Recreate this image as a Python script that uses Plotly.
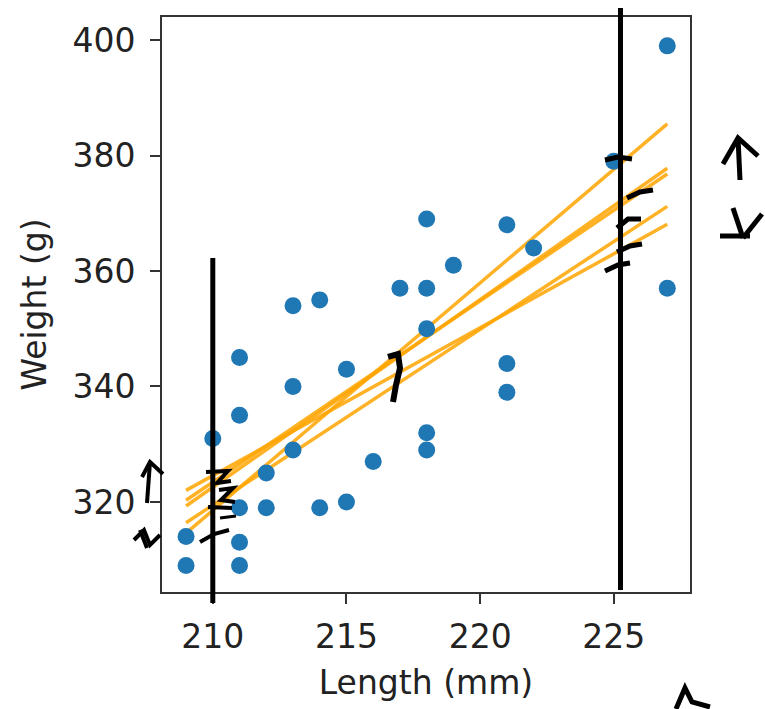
import plotly.graph_objects as go

# Fish measurements: length (mm) vs weight (g)
length_mm = [209, 209, 210, 211, 211, 211, 211, 211, 212, 212, 213, 213, 213,
             214, 214, 215, 215, 216, 217, 218, 218, 218, 218, 218, 219, 221,
             221, 221, 222, 225, 227, 227]
weight_g = [309, 314, 331, 345, 335, 319, 313, 309, 325, 319, 354, 340, 329,
            355, 319, 343, 320, 327, 357, 369, 357, 350, 332, 329, 361, 368,
            344, 339, 364, 379, 399, 357]

# Resampled regression fits, given by their weights at both ends of the length span
fit_x = [209, 227]
fit_start = [314.6, 316.4, 319.3, 320.3, 322.0]
fit_end = [385.5, 371.2, 377.8, 376.8, 368.1]

# Marked lengths
marked_lengths = [210, 225.25]

x_tick_vals = [210, 215, 220, 225]
y_tick_vals = [320, 340, 360, 380, 400]

W, H = 765, 709
L, R, T, B = 162, 75, 17, 117
XR = [208.1, 227.85]
YR = [304.4, 404.0]
PW, PH = W - L - R, H - T - B

fig = go.Figure()

for s, e in zip(fit_start, fit_end):
    fig.add_trace(go.Scatter(x=fit_x, y=[s, e], mode="lines",
                             line=dict(color="rgba(255,165,0,0.85)", width=3.5),
                             showlegend=False, hoverinfo="skip"))

fig.add_trace(go.Scatter(x=length_mm, y=weight_g, mode="markers",
                         marker=dict(color="#1f77b4", size=17, line=dict(width=0)),
                         showlegend=False))


def pp(px, py):
    """Canvas pixel -> paper coordinates."""
    return (px - L) / PW, (H - B - py) / PH


def stroke(points, width=4):
    parts = []
    for i, (px, py) in enumerate(points):
        x, y = pp(px, py)
        parts.append(("M" if i == 0 else "L") + f"{x:.5f},{y:.5f}")
    fig.add_shape(type="path", path=" ".join(parts), xref="paper", yref="paper",
                  line=dict(color="black", width=width), layer="above")


def xpix(v):
    return L + (v - XR[0]) / (XR[1] - XR[0]) * PW


# vertical marker lines
x210 = xpix(marked_lengths[0])
x225 = xpix(marked_lengths[1])
stroke([(x210, 258), (x210, 603)], width=5)
stroke([(x225, 8), (x225, 590)], width=5)

# scribbles along the left marker
stroke([(206, 472), (228, 471), (217, 483), (231, 481)], 4)
stroke([(219, 490), (233, 488), (221, 500), (235, 502)], 4)
stroke([(208, 507), (232, 508)], 4)
stroke([(220, 518), (236, 516)], 3)
stroke([(200, 542), (214, 534), (229, 530)], 4)

# dashes along the right marker
stroke([(605, 160), (618, 157), (632, 159)], 5)
stroke([(627, 198), (640, 192), (653, 190)], 5)
stroke([(617, 228), (628, 219), (641, 219)], 5)
stroke([(617, 252), (630, 246), (642, 244)], 5)
stroke([(605, 271), (618, 265), (630, 263)], 5)

# mark at the crossing of the fits
stroke([(388, 357), (398, 354), (400, 368), (396, 385), (393, 402)], 6)

# arrows on the right
stroke([(740, 180), (738, 138)], 5)
stroke([(723, 164), (738, 138), (758, 156)], 5)
stroke([(733, 208), (743, 238)], 5)
stroke([(762, 214), (743, 238)], 5)
stroke([(720, 236), (750, 236)], 5)

# arrows on the left
stroke([(147, 503), (150, 462)], 4)
stroke([(142, 477), (150, 462), (163, 474)], 4)
stroke([(134, 540), (144, 530), (150, 545), (160, 535)], 4)
stroke([(140, 530), (147, 548)], 4)

# stroke at the bottom right
stroke([(676, 709), (685, 688), (692, 702), (710, 707)], 5)

axis_common = dict(showline=True, linecolor="#333333", linewidth=2, mirror=True,
                   ticks="outside", ticklen=10, tickwidth=2, tickcolor="#333333",
                   showgrid=False, zeroline=False,
                   tickfont=dict(family="DejaVu Sans", size=33, color="#222222"),
                   title_font=dict(family="DejaVu Sans", size=33, color="#222222"))

fig.update_xaxes(range=XR, tickvals=x_tick_vals, title_text="Length (mm)",
                 title_standoff=16, ticklabelstandoff=4, **axis_common)
fig.update_yaxes(range=YR, tickvals=y_tick_vals, title_text="Weight (g)",
                 title_standoff=16, ticklabelstandoff=8, **axis_common)

fig.update_layout(width=W, height=H, margin=dict(l=L, r=R, t=T, b=B),
                  paper_bgcolor="white", plot_bgcolor="white")

fig.write_html("out.html")
